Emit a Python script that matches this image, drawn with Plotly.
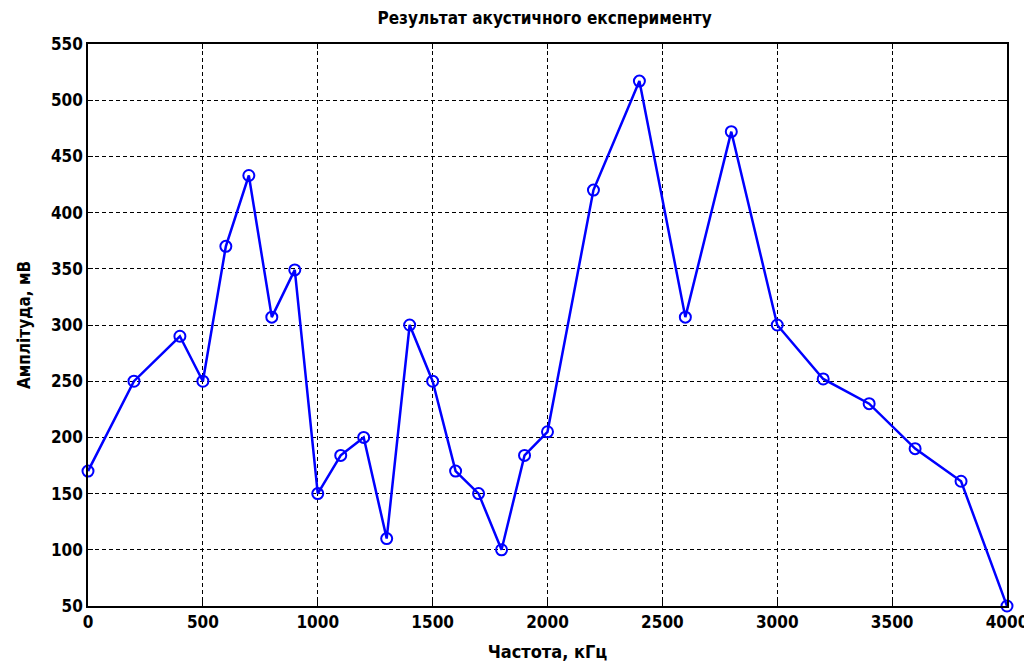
import plotly.graph_objects as go

freq_khz = [0, 200, 400, 500, 600, 700, 800, 900, 1000, 1100, 1200, 1300, 1400, 1500,
            1600, 1700, 1800, 1900, 2000, 2200, 2400, 2600, 2800, 3000, 3200, 3400,
            3600, 3800, 4000]
amplitude_mv = [170, 250, 290, 250, 370, 433, 307, 349, 150, 184, 200, 110, 300, 250,
                170, 150, 100, 184, 205, 420, 517, 307, 472, 300, 252, 230,
                190, 161, 50]

x_ticks = [0, 500, 1000, 1500, 2000, 2500, 3000, 3500, 4000]
y_ticks = [50, 100, 150, 200, 250, 300, 350, 400, 450, 500, 550]

title_text = "Результат акустичного експерименту"
x_label = "Частота, кГц"
y_label = "Амплітуда, мВ"

FONT = "DejaVu Sans Condensed, Liberation Sans Narrow, sans-serif"

fig = go.Figure()
fig.add_trace(go.Scatter(
    x=freq_khz, y=amplitude_mv, mode="lines+markers",
    line=dict(color="#0000FF", width=2.5),
    marker=dict(symbol="circle-open", size=11, color="#0000FF", line=dict(width=2, color="#0000FF")),
    showlegend=False, cliponaxis=False,
))

axis_common = dict(
    showline=True, linecolor="black", linewidth=1.5, mirror="allticks",
    ticks="inside", ticklen=5, tickcolor="black",
    showgrid=True, gridcolor="black", gridwidth=1, griddash="4px,3px",
    zeroline=False, automargin=False,
    tickfont=dict(family=FONT, size=17, color="black", weight="bold"),
)

fig.update_xaxes(range=[0, 4000], tickvals=x_ticks, **axis_common,
                 title=dict(text=x_label, font=dict(family=FONT, size=18, color="black", weight="bold"), standoff=14))
fig.update_yaxes(range=[50, 550], tickvals=y_ticks, **axis_common,
                 title=dict(text=y_label, font=dict(family=FONT, size=17, color="black", weight="bold"), standoff=16))

fig.update_layout(
    width=1024, height=656,
    margin=dict(l=80, r=25, t=36, b=58),
    paper_bgcolor="white", plot_bgcolor="white",
    title=dict(text=title_text, x=0.524, xanchor="center", y=0.985, yanchor="middle",
               font=dict(family=FONT, size=17, color="black", weight="bold")),
)

fig.write_html("out.html")
